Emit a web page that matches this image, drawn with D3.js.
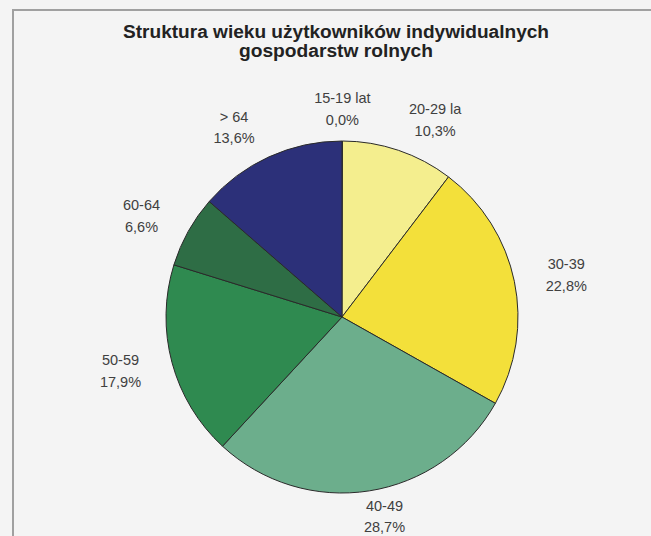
<!DOCTYPE html>
<html>
<head>
<meta charset="utf-8">
<script src="https://cdn.jsdelivr.net/npm/d3@7"></script>
<style>
  html, body { margin: 0; padding: 0; background: #f4f4f4; }
  svg { display: block; }
</style>
</head>
<body>
<svg id="chart" width="651" height="536"></svg>
<script>
// ---- data ----
const titleLines = ["Struktura wieku użytkowników indywidualnych", "gospodarstw rolnych"];
const categories = ["15-19 lat", "20-29 la", "30-39", "40-49", "50-59", "60-64", "> 64"];
const values = [0.04, 10.3, 22.8, 28.7, 17.9, 6.6, 13.6];
const colors = ["#7fb6e8", "#f4ee8e", "#f3e03a", "#6cae8c", "#2f8a50", "#2e6d45", "#2c3079"];

const svg = d3.select("#chart");
const W = 651, H = 536;
const cx = 342, cy = 317, R = 176;

// frame
svg.append("path")
  .attr("d", `M13,${H} L13,10 L${W},10`)
  .attr("fill", "none")
  .attr("stroke", "#a0a0a0")
  .attr("stroke-width", 2);

// title
const titleWidths = [426, 194];
const title = svg.append("g").attr("font-family", "Liberation Sans, Arial, sans-serif")
  .attr("font-weight", "bold").attr("fill", "#222");
title.selectAll("text").data(titleLines).join("text")
  .attr("x", cx - 6).attr("y", (d, i) => 38 + i * 19)
  .attr("text-anchor", "middle")
  .attr("font-size", 17.5)
  .attr("textLength", (d, i) => titleWidths[i])
  .attr("lengthAdjust", "spacingAndGlyphs")
  .text(d => d);

const data = categories.map((c, i) => ({ cat: c, value: values[i], color: colors[i] }));
const pie = d3.pie().sort(null).value(d => d.value);
const arcs = pie(data);
const arc = d3.arc().innerRadius(0).outerRadius(R);

const g = svg.append("g").attr("transform", `translate(${cx},${cy})`);
g.selectAll("path").data(arcs).join("path")
  .attr("d", arc)
  .attr("fill", d => d.data.color)
  .attr("stroke", "#2a2a2a")
  .attr("stroke-width", 1)
  .attr("stroke-linejoin", "round");

const fmt = v => d3.format(".1f")(v).replace(".", ",") + "%";
const labels = g.append("g").attr("font-family", "Liberation Sans, Arial, sans-serif")
  .attr("font-size", 14.5).attr("fill", "#404040");
const gx = 30, gy = 16, hh = 16.5;
arcs.forEach(a => {
  const ang = (a.startAngle + a.endAngle) / 2;
  const s = Math.sin(ang), c = Math.cos(ang);
  const t = labels.append("text").attr("text-anchor", "middle");
  const t1 = t.append("tspan").text(a.data.cat);
  const t2 = t.append("tspan").text(fmt(a.data.value));
  const w = Math.max(t1.node().getComputedTextLength(), t2.node().getComputedTextLength());
  const hw = w / 2 + 2;
  const k = Math.max(-1, Math.min(1, s * 3));
  let x = (R + gx) * s + hw * k;
  let y = -(R + gy) * c - hh * c;
  // keep the label block inside the picture
  const maxY = H - cy - 4 - 16;
  if (y > maxY) y = maxY;
  t1.attr("x", x).attr("y", y - 5.5);
  t2.attr("x", x).attr("y", y + 16);
});
</script>
</body>
</html>
